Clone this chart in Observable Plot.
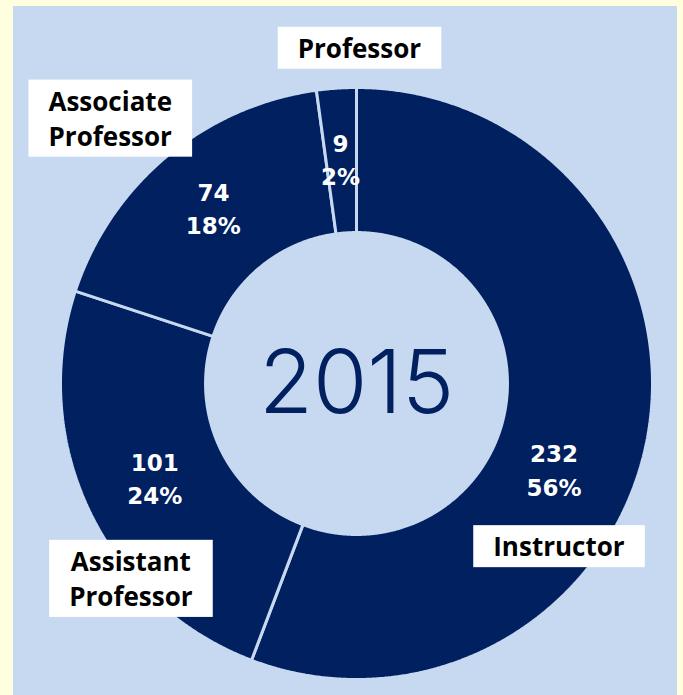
<!DOCTYPE html>
<html>
<head>
<meta charset="utf-8">
<script src="https://cdn.jsdelivr.net/npm/d3@7"></script>
<script src="https://cdn.jsdelivr.net/npm/@observablehq/plot@0.6"></script>
<style>
  html, body { margin: 0; padding: 0; background: #ffffe0; width: 683px; height: 695px; overflow: hidden; }
  #chart { position: absolute; left: 13px; top: 6px; width: 664px; height: 689px; background: #c6d9f0; }
  #chart svg { display: block; overflow: visible; }
</style>
</head>
<body>
<div id="chart"></div>
<script>
// ---- data ----
const categories = ["Instructor", "Assistant Professor", "Associate Professor", "Professor"];
const counts = [232, 101, 74, 9];
const yearLabel = "2015";

// ---- layout / style (not data) ----
const NAVY = "#002060";
const BG = "#c6d9f0";
const innerRatio = 0.51;
const valueLabelRadius = [0.73, 0.755, 0.76, 0.755];
const valueLabelShiftDeg = [13.6, 0, 0.3, -0.2];
const calloutAngleDeg = [129, 229, 317, 0.5];
const calloutRadius = [0.88, 1.01, 1.22, 1.13];

const total = d3.sum(counts);
const rad = (deg) => deg * Math.PI / 180;

// slices: angles clockwise from 12 o'clock
let acc = 0;
const slices = categories.map((c, i) => {
  const a0 = acc / total * 2 * Math.PI;
  acc += counts[i];
  const a1 = acc / total * 2 * Math.PI;
  return {category: c, value: counts[i], pct: Math.round(counts[i] / total * 100) + "%", a0, a1, i};
});

// polygon points for each ring slice
const ringPoints = [];
for (const s of slices) {
  const n = Math.max(8, Math.ceil((s.a1 - s.a0) / 0.005));
  const pts = [];
  for (let k = 0; k <= n; k++) {
    const a = s.a0 + (s.a1 - s.a0) * k / n;
    pts.push({category: s.category, x: Math.sin(a), y: Math.cos(a)});
  }
  for (let k = n; k >= 0; k--) {
    const a = s.a0 + (s.a1 - s.a0) * k / n;
    pts.push({category: s.category, x: innerRatio * Math.sin(a), y: innerRatio * Math.cos(a)});
  }
  pts.push({...pts[0]});
  ringPoints.push(...pts);
}

const valueLabels = slices.map((s) => {
  const a = (s.a0 + s.a1) / 2 + rad(valueLabelShiftDeg[s.i]);
  const r = valueLabelRadius[s.i];
  return {x: r * Math.sin(a), y: r * Math.cos(a), text: s.value + "\n" + s.pct};
});

const callouts = slices.map((s) => {
  const a = rad(calloutAngleDeg[s.i]);
  const r = calloutRadius[s.i];
  return {x: r * Math.sin(a), y: r * Math.cos(a), text: s.category.replace(" ", "\n")};
});

const W = 664, H = 689, cx = 343, cy = 377, R = 296;

const plot = Plot.plot({
  width: W,
  height: H,
  marginLeft: cx - R,
  marginRight: W - (cx + R),
  marginTop: cy - R,
  marginBottom: H - (cy + R),
  x: {domain: [-1, 1], axis: null},
  y: {domain: [-1, 1], axis: null},
  style: {background: "transparent", overflow: "visible"},
  marks: [
    Plot.line(ringPoints, {x: "x", y: "y", z: "category", fill: NAVY, stroke: BG, strokeWidth: 3, strokeLinejoin: "miter", curve: "linear"}),
    Plot.text([yearLabel], {x: () => 0, y: () => 0, text: (d) => d, fill: NAVY, fontSize: 88, fontWeight: 300, fontFamily: "Inter", dy: 1}),
    Plot.text(valueLabels, {x: "x", y: "y", text: "text", fill: "white", fontSize: 23, fontWeight: "bold", fontFamily: "DejaVu Sans", lineHeight: 1.45, dy: -3}),
    Plot.text(callouts, {x: "x", y: "y", text: "text", fill: "black", fontSize: 26, fontWeight: "bold", fontFamily: "Open Sans", lineHeight: 1.35, dy: -2.5})
  ]
});

document.getElementById("chart").appendChild(plot);

// white boxes behind the category callouts (last text mark)
const groups = plot.querySelectorAll('g[aria-label="text"]');
const g = groups[groups.length - 1];
if (g) {
  for (const t of Array.from(g.querySelectorAll("text"))) {
    const b = t.getBBox();
    const tr = t.getAttribute("transform");
    const rect = document.createElementNS("http://www.w3.org/2000/svg", "rect");
    const w = b.width + 40, h = b.height + 6;
    rect.setAttribute("x", b.x + b.width / 2 - w / 2);
    rect.setAttribute("y", b.y + b.height / 2 - h / 2);
    rect.setAttribute("width", w);
    rect.setAttribute("height", h);
    rect.setAttribute("fill", "white");
    if (tr) rect.setAttribute("transform", tr);
    g.insertBefore(rect, t);
  }
}
</script>
</body>
</html>
